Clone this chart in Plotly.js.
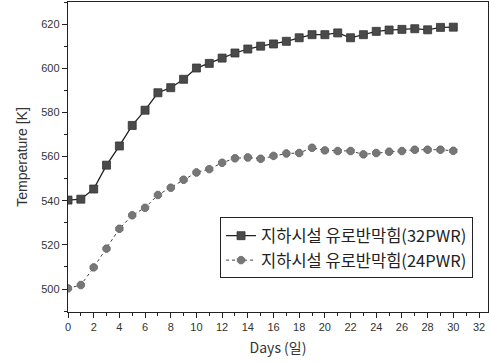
<!DOCTYPE html>
<html><head><meta charset="utf-8">
<script src="https://cdn.plot.ly/plotly-3.0.1.min.js"></script>
<style>html,body{margin:0;padding:0;background:#fff;}#chart{width:489px;height:362px;}</style>
</head><body><div id="chart"></div>
<script>
const days = [0,1,2,3,4,5,6,7,8,9,10,11,12,13,14,15,16,17,18,19,20,21,22,23,24,25,26,27,28,29,30];
const temp32 = [540.3,540.7,545.3,556.1,564.8,574.1,581.0,588.9,591.2,595.0,600.1,602.2,604.6,606.9,608.7,610.0,611.0,612.2,613.8,615.2,615.2,616.0,613.8,615.2,616.7,617.3,617.6,617.9,617.4,618.5,618.6];
const temp24 = [500.3,501.8,509.8,518.3,527.3,533.4,536.8,542.6,545.9,549.5,552.8,554.3,557.2,559.2,559.6,559.0,560.3,561.4,561.6,564.0,562.8,562.5,562.5,561.0,561.6,562.2,562.5,563.1,563.1,563.1,562.6];
const seriesNames = ['지하시설 유로반막힘(32PWR)','지하시설 유로반막힘(24PWR)'];
const xTicks = [0,2,4,6,8,10,12,14,16,18,20,22,24,26,28,30,32];
const yTicks = [500,520,540,560,580,600,620];

const traces = [
  {x: days, y: temp32, name: seriesNames[0], mode: 'lines+markers',
   line: {color: '#222', width: 1.3},
   marker: {symbol: 'square', size: 8, color: '#4a4a4a', line: {color: '#333', width: 0.8}}},
  {x: days, y: temp24, name: seriesNames[1], mode: 'lines+markers',
   line: {color: '#444', width: 1, dash: 'dot'},
   marker: {symbol: 'octagon', size: 8, color: '#777', line: {color: '#666', width: 0.8}}}
];
const axisCommon = {showgrid: false, zeroline: false, showline: true, linecolor: '#222', linewidth: 1.2,
  mirror: true, ticks: 'outside', ticklen: 5, tickwidth: 1, tickcolor: '#222',
  tickfont: {family: 'Liberation Sans, Arial, sans-serif', size: 11, color: '#333'}};
const layout = {
  width: 489, height: 362,
  margin: {l: 68, r: 1, t: 2, b: 50},
  paper_bgcolor: '#fff', plot_bgcolor: '#fff',
  showlegend: true,
  legend: {x: 0.362, y: 0.305, xanchor: 'left', yanchor: 'top', bordercolor: '#222', borderwidth: 1,
    bgcolor: '#fff', font: {family: 'Noto Sans CJK KR, sans-serif', size: 16.5, color: '#222'},
    tracegroupgap: 0, itemwidth: 30},
  xaxis: Object.assign({}, axisCommon, {range: [0, 32.7], tickvals: xTicks, ticktext: xTicks.map(String),
    minor: {ticks: 'outside', ticklen: 3, tickwidth: 1, tickcolor: '#222', dtick: 1},
    title: {text: 'Days (일)', font: {family: 'Noto Sans CJK KR, sans-serif', size: 14, color: '#333'}, standoff: 10}}),
  yaxis: Object.assign({}, axisCommon, {range: [489.6, 630], tickvals: yTicks, ticktext: yTicks.map(String),
    minor: {ticks: 'outside', ticklen: 3, tickwidth: 1, tickcolor: '#222', dtick: 10},
    title: {text: 'Temperature [K]', font: {family: 'Liberation Sans, Arial, sans-serif', size: 14, color: '#333'}, standoff: 10}})
};
Plotly.newPlot('chart', traces, layout, {displayModeBar: false, staticPlot: true});
</script></body></html>
